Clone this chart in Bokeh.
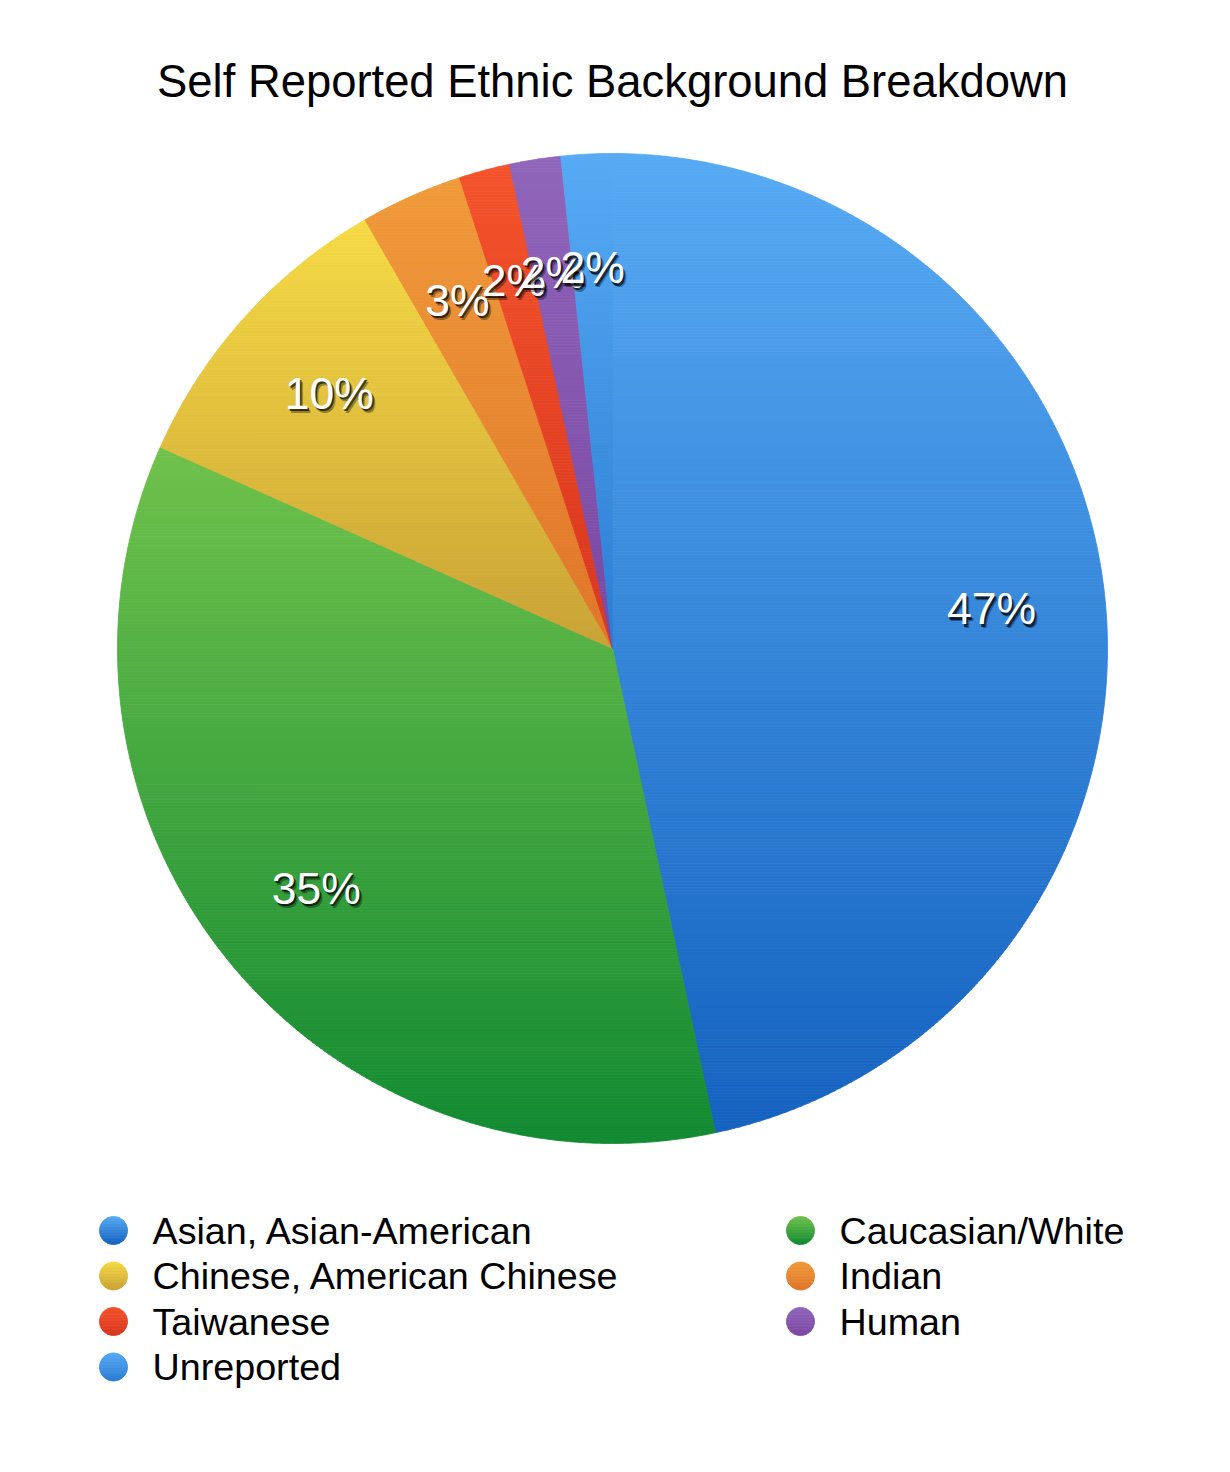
import numpy as np
from bokeh.plotting import figure
from bokeh.models import Range1d, ColumnDataSource
from bokeh.embed import file_html
from bokeh.resources import INLINE
from bokeh.core.properties import value

# ---------------- data ----------------
title_text = "Self Reported Ethnic Background Breakdown"
categories = ["Asian, Asian-American", "Caucasian/White", "Chinese, American Chinese",
              "Indian", "Taiwanese", "Human", "Unreported"]
counts = [28, 21, 6, 2, 1, 1, 1]
top_colors = ["#57aaf4", "#70c24c", "#f6da44", "#f09a3a", "#f4532b", "#9066ba", "#57aaf4"]
bottom_colors = ["#1462bf", "#128a32", "#c9a236", "#e0752a", "#d8361f", "#7a47a3", "#2a7dd3"]

# ---------------- layout constants ----------------
CX, CY, R = 612.0, 648.0, 495.0
FONT = value("Liberation Sans")


def hex2rgb(h):
    h = h.lstrip("#")
    return np.array([int(h[i:i + 2], 16) for i in (0, 2, 4)], dtype=float)


def rgb2hex(c):
    c = np.clip(np.round(c), 0, 255).astype(int)
    return "#%02x%02x%02x" % tuple(c)


def clip_half(poly, ylim, keep_above):
    out = []
    n = len(poly)
    for i in range(n):
        p, q = poly[i], poly[(i + 1) % n]
        pin = p[1] >= ylim if keep_above else p[1] <= ylim
        qin = q[1] >= ylim if keep_above else q[1] <= ylim
        if pin:
            out.append(p)
        if pin != qin:
            t = (ylim - p[1]) / (q[1] - p[1])
            out.append((p[0] + t * (q[0] - p[0]), ylim))
    return out


def gradient_bands(poly, c_top, c_bot, step=3.0):
    ys = [pt[1] for pt in poly]
    y0, y1 = min(ys), max(ys)
    nb = max(1, int(np.ceil((y1 - y0) / step)))
    edges = np.linspace(y0, y1, nb + 1)
    ct, cb = hex2rgb(c_top), hex2rgb(c_bot)
    xs_out, ys_out, cols = [], [], []
    for i in range(nb):
        a, b = edges[i], edges[i + 1]
        part = clip_half(poly, a, True)
        if len(part) < 3:
            continue
        part = clip_half(part, b, False)
        if len(part) < 3:
            continue
        t = ((a + b) / 2 - y0) / max(y1 - y0, 1e-9)
        xs_out.append([pt[0] for pt in part])
        ys_out.append([pt[1] for pt in part])
        cols.append(rgb2hex(ct + (cb - ct) * t))
    return xs_out, ys_out, cols


p = figure(width=1214, height=1456, x_range=Range1d(0, 1214), y_range=Range1d(1456, 0),
           output_backend="svg", toolbar_location=None, x_axis_type=None, y_axis_type=None,
           min_border=0, background_fill_color="white", border_fill_color="white")
p.outline_line_color = None
p.grid.visible = False

total = float(sum(counts))
fracs = [c / total for c in counts]
starts = np.concatenate([[0.0], np.cumsum(fracs)[:-1]]) * 2 * np.pi
ends = np.cumsum(fracs) * 2 * np.pi

all_xs, all_ys, all_cols = [], [], []
for s, e, ct, cb in zip(starts, ends, top_colors, bottom_colors):
    n = max(8, int((e - s) * 180 / np.pi * 2))
    th = np.linspace(s, e, n)
    poly = [(CX, CY)] + [(CX + R * np.sin(a), CY - R * np.cos(a)) for a in th]
    xs, ys, cols = gradient_bands(poly, ct, cb)
    all_xs += xs
    all_ys += ys
    all_cols += cols

# legend markers (gradient circles)
leg_col_x = [113.0, 800.0]
leg_row_y = [1230.0, 1275.5, 1321.0, 1366.5]
leg_pos = []
for i in range(len(categories)):
    col, row = i % 2, i // 2
    leg_pos.append((leg_col_x[col], leg_row_y[row]))
for (mx, my), ct, cb in zip(leg_pos, top_colors, bottom_colors):
    th = np.linspace(0, 2 * np.pi, 60, endpoint=False)
    poly = [(mx + 14 * np.cos(a), my + 14 * np.sin(a)) for a in th]
    xs, ys, cols = gradient_bands(poly, ct, cb, step=1.5)
    all_xs += xs
    all_ys += ys
    all_cols += cols

p.patches(xs="xs", ys="ys", fill_color="c", line_color="c", line_width=0.8,
          source=ColumnDataSource(dict(xs=all_xs, ys=all_ys, c=all_cols)))

# percentage labels (each label drawn with its own shadow, in slice order)
pct = ["%d%%" % int(np.floor(100 * f + 0.5)) for f in fracs]
mids = (starts + ends) / 2
lr = 0.77 * R
lx = [CX + lr * np.sin(a) for a in mids]
ly = [CY - lr * np.cos(a) for a in mids]
for x, y, t in zip(lx, ly, pct):
    p.text(x=[x + 3], y=[y + 4], text=[t], text_font=FONT, text_font_size="44.5px",
           text_color="black", text_alpha=0.35, text_align="center", text_baseline="alphabetic")
    p.text(x=[x + 1.5], y=[y + 2.5], text=[t], text_font=FONT, text_font_size="44.5px",
           text_color="black", text_alpha=0.7, text_align="center", text_baseline="alphabetic")
    p.text(x=[x], y=[y], text=[t], text_font=FONT, text_font_size="44.5px",
           text_color="white", text_align="center", text_baseline="alphabetic")

# title
p.text(x=[612], y=[81], text=[title_text], text_font=FONT, text_font_size="45.4px",
       text_color="black", text_align="center", text_baseline="alphabetic")

# legend text
p.text(x=[mx + 39 for mx, my in leg_pos], y=[my for mx, my in leg_pos], text=categories,
       text_font=FONT, text_font_size="37.7px", text_color="black",
       text_align="left", text_baseline="alphabetic")

open("out.html", "w").write(file_html(p, INLINE))
